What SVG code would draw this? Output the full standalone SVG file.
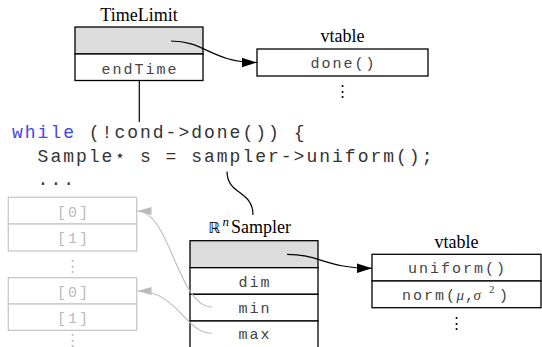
<svg xmlns="http://www.w3.org/2000/svg" width="542" height="347" viewBox="0 0 542 347">
<defs>
<style>
.box{fill:#fff;stroke:#000;stroke-width:1.3}
.hdr{fill:#dcdcdc;stroke:#000;stroke-width:1.3}
.gbox{fill:#fff;stroke:#c8c8c8;stroke-width:1.3}
.title{font-family:"Liberation Serif","DejaVu Serif",serif;font-size:18px;fill:#000}
.bb{font-family:"DejaVu Sans","Noto Sans",sans-serif;font-size:15px;fill:#000}
.mono{font-family:"Liberation Mono","DejaVu Sans Mono",monospace;font-size:15px;letter-spacing:2px;fill:#444}
.gmono{font-family:"Liberation Mono","DejaVu Sans Mono",monospace;font-size:15px;letter-spacing:2px;fill:#bbb}
.mid{text-anchor:middle}
.code{font-family:"Liberation Mono","DejaVu Sans Mono",monospace;font-size:18px;letter-spacing:2px;fill:#333}
.kw{fill:#4646f0}
.mi{font-family:"Liberation Serif","DejaVu Serif",serif;font-style:italic;letter-spacing:0}
.sup{font-family:"Liberation Serif","DejaVu Serif",serif;font-size:11px;letter-spacing:0}
.conn{fill:none;stroke:#000;stroke-width:1.2}
.gconn{fill:none;stroke:#bbb;stroke-width:1.1}
.dots{font-family:"DejaVu Serif",serif;font-size:15px;text-anchor:middle;fill:#000}
.gdots{font-family:"DejaVu Serif",serif;font-size:15px;text-anchor:middle;fill:#bbb}
</style>
<marker id="ah" markerUnits="userSpaceOnUse" markerWidth="16" markerHeight="10" refX="15" refY="5" orient="auto"><path d="M0,0.3 L15,5 L0,9.7 z" fill="#000"/></marker>
<marker id="gah" markerUnits="userSpaceOnUse" markerWidth="15" markerHeight="9" refX="14" refY="4.5" orient="auto"><path d="M0,0.5 L14,4.5 L0,8.5 z" fill="#bbb"/></marker>
</defs>

<g id="timelimit">
<text class="title mid" x="139" y="20.5">TimeLimit</text>
<rect class="hdr" x="75" y="27" width="128" height="27"/>
<rect class="box" x="75" y="54" width="128" height="26.5"/>
<text class="mono mid" x="140" y="74">endTime</text>
</g>

<g id="vtable1">
<text class="title mid" x="342.5" y="41.7">vtable</text>
<rect class="box" x="257" y="49" width="171" height="27"/>
<text class="mono mid" x="343.5" y="67.5">done()</text>
<text class="dots" x="342" y="96">⋮</text>
</g>

<g id="code">
<text class="code" y="138"><tspan class="kw" x="12">while</tspan><tspan x="88.8">(!cond-&gt;done()) {</tspan></text>
<text class="code" y="161.5"><tspan x="37.6">Sample</tspan><tspan x="114.4">⋆</tspan><tspan x="140">s = sampler-&gt;uniform();</tspan></text>
<text class="code" x="37.6" y="185">...</text>
</g>

<g id="arrays">
<rect class="gbox" x="8.3" y="197.3" width="128.4" height="26.7"/>
<rect class="gbox" x="8.3" y="224" width="128.4" height="27"/>
<text class="gmono mid" x="73.5" y="216.7">[0]</text>
<text class="gmono mid" x="73.5" y="243.3">[1]</text>
<text class="gdots" x="72.7" y="270.5">⋮</text>
<rect class="gbox" x="8.3" y="277.7" width="128.4" height="26.3"/>
<rect class="gbox" x="8.3" y="304" width="128.4" height="26.3"/>
<text class="gmono mid" x="73.5" y="296.7">[0]</text>
<text class="gmono mid" x="73.5" y="322.5">[1]</text>
<text class="gdots" x="72.7" y="345">⋮</text>
</g>

<g id="sampler">
<text class="title" y="232.7"><tspan class="bb" x="208.5">ℝ</tspan><tspan x="222.5" dy="-7" font-style="italic" font-size="13">n</tspan><tspan x="231" dy="7">Sampler</tspan></text>
<rect class="hdr" x="190" y="240.7" width="128" height="27"/>
<rect class="box" x="190" y="267.7" width="128" height="26.6"/>
<rect class="box" x="190" y="294.3" width="128" height="26.7"/>
<rect class="box" x="190" y="321" width="128" height="27"/>
<text class="mono mid" x="255" y="286.7">dim</text>
<text class="mono mid" x="255" y="313">min</text>
<text class="mono mid" x="255" y="338.5">max</text>
</g>

<g id="vtable2">
<text class="title mid" x="456.5" y="247.5">vtable</text>
<rect class="box" x="372" y="254.3" width="169" height="26.7"/>
<rect class="box" x="372" y="281" width="169" height="26.7"/>
<text class="mono mid" x="457.5" y="273.3">uniform()</text>
<text class="mono" y="300"><tspan x="402">norm(</tspan><tspan class="mi" x="456.5">μ</tspan><tspan x="465">,</tspan><tspan class="mi" x="473.5">σ</tspan><tspan class="sup" x="489" dy="-7">2</tspan><tspan x="499" dy="7">)</tspan></text>
<text class="dots" x="456.7" y="328">⋮</text>
</g>

<g id="connectors">
<path class="conn" d="M171,41 C205,41 212,62.5 257,62.5" marker-end="url(#ah)"/>
<path class="conn" d="M139.3,80.5 V122"/>
<path class="conn" d="M227,171.5 C227,195 253,190 253,215"/>
<path class="conn" d="M287,254.3 C320,254.3 325,268.3 372,268.3" marker-end="url(#ah)"/>
<path class="gconn" d="M212,307 C178,307 170,211 137.5,211" marker-end="url(#gah)"/>
<path class="gconn" d="M212,333.3 C185,333.3 178,291 137.5,291" marker-end="url(#gah)"/>
</g>
</svg>
